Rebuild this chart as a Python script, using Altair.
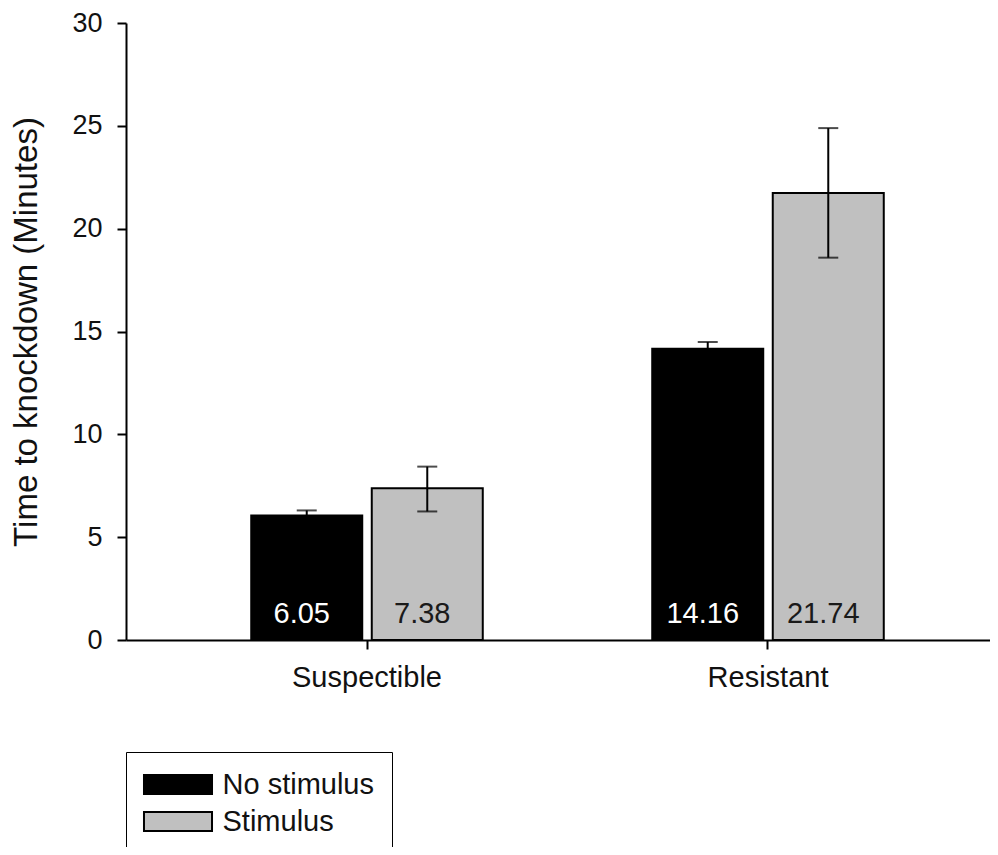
import altair as alt
import pandas as pd

groups = ["Suspectible", "Resistant"]
treatments = ["No stimulus", "Stimulus"]
group_col = ["Suspectible", "Suspectible", "Resistant", "Resistant"]
treat_col = ["No stimulus", "Stimulus", "No stimulus", "Stimulus"]
means = [6.05, 7.38, 14.16, 21.74]
err_lo = [5.80, 6.25, 13.83, 18.59]
err_hi = [6.30, 8.43, 14.49, 24.89]
labels = ["6.05", "7.38", "14.16", "21.74"]

df = pd.DataFrame({
    "group": group_col,
    "treatment": treat_col,
    "mean": means,
    "lo": err_lo,
    "hi": err_hi,
    "label": labels,
})

FONT = "Liberation Sans"

x_enc = alt.X(
    "group:N",
    sort=groups,
    scale=alt.Scale(range=[0, 883], paddingInner=0, paddingOuter=0.101),
    axis=alt.Axis(
        title=None,
        labelAngle=0,
        labelFontSize=29,
        labelColor="#111111",
        labelPadding=14,
        tickSize=9,
        tickWidth=2,
        tickColor="black",
        domainWidth=2,
        domainColor="black",
        labelFont=FONT,
    ),
)
xo_enc = alt.XOffset(
    "treatment:N",
    sort=treatments,
    scale=alt.Scale(paddingInner=0.079, paddingOuter=0.703),
)

y_scale = alt.Scale(domain=[0, 30], nice=False, zero=True)

bars = alt.Chart(df).mark_bar(stroke="black", strokeWidth=2).encode(
    x=x_enc,
    xOffset=xo_enc,
    y=alt.Y(
        "mean:Q",
        scale=y_scale,
        axis=alt.Axis(
            title="Time to knockdown (Minutes)",
            values=[0, 5, 10, 15, 20, 25, 30],
            grid=False,
            labelFontSize=27,
            labelColor="#111111",
            labelPadding=15,
            tickSize=9,
            tickWidth=2,
            tickColor="black",
            domainWidth=2,
            domainColor="black",
            titleFontSize=33,
            titleFontWeight="normal",
            titleColor="#111111",
            titlePadding=28,
            labelFont=FONT,
            titleFont=FONT,
        ),
    ),
    color=alt.Color(
        "treatment:N",
        sort=treatments,
        scale=alt.Scale(domain=treatments, range=["black", "#c0c0c0"]),
        legend=alt.Legend(
            title=None,
            orient="none",
            legendX=0,
            legendY=729,
            strokeColor="black",
            fillColor="white",
            padding=18,
            labelFontSize=29,
            labelFont=FONT,
            labelColor="#111111",
            labelOffset=30,
            rowPadding=7,
            symbolType="M-3.58,-1L3.58,-1L3.58,1L-3.58,1Z",
            symbolSize=361,
            symbolOffset=19.5,
            symbolStrokeColor="black",
            symbolStrokeWidth=2,
            symbolOpacity=1,
        ),
    ),
)

rules = alt.Chart(df).mark_rule(color="black", strokeWidth=2).encode(
    x=x_enc, xOffset=xo_enc, y=alt.Y("lo:Q", scale=y_scale), y2="hi:Q"
)
caps_hi = alt.Chart(df).mark_tick(color="black", size=20, thickness=2).encode(
    x=x_enc, xOffset=xo_enc, y=alt.Y("hi:Q", scale=y_scale)
)
caps_lo = alt.Chart(df).mark_tick(color="black", size=20, thickness=2).encode(
    x=x_enc, xOffset=xo_enc, y=alt.Y("lo:Q", scale=y_scale)
)

texts = alt.Chart(df).mark_text(
    fontSize=29, font=FONT, baseline="alphabetic", dy=-17, dx=-5
).encode(
    x=x_enc,
    xOffset=xo_enc,
    y=alt.datum(0, scale=y_scale),
    text="label:N",
    fill=alt.condition(
        "datum.treatment === 'No stimulus'", alt.value("white"), alt.value("#1a1a1a")
    ),
)

chart = (
    alt.layer(bars, rules, caps_hi, caps_lo, texts)
    .properties(
        width=864,
        height=617,
        autosize=alt.AutoSizeParams(type="none"),
        padding={"left": 118, "top": 15, "right": 0, "bottom": 207},
        background="white",
    )
    .configure_view(stroke=None)
)

chart.save("out.html", embed_options={"renderer": "svg", "actions": False})
